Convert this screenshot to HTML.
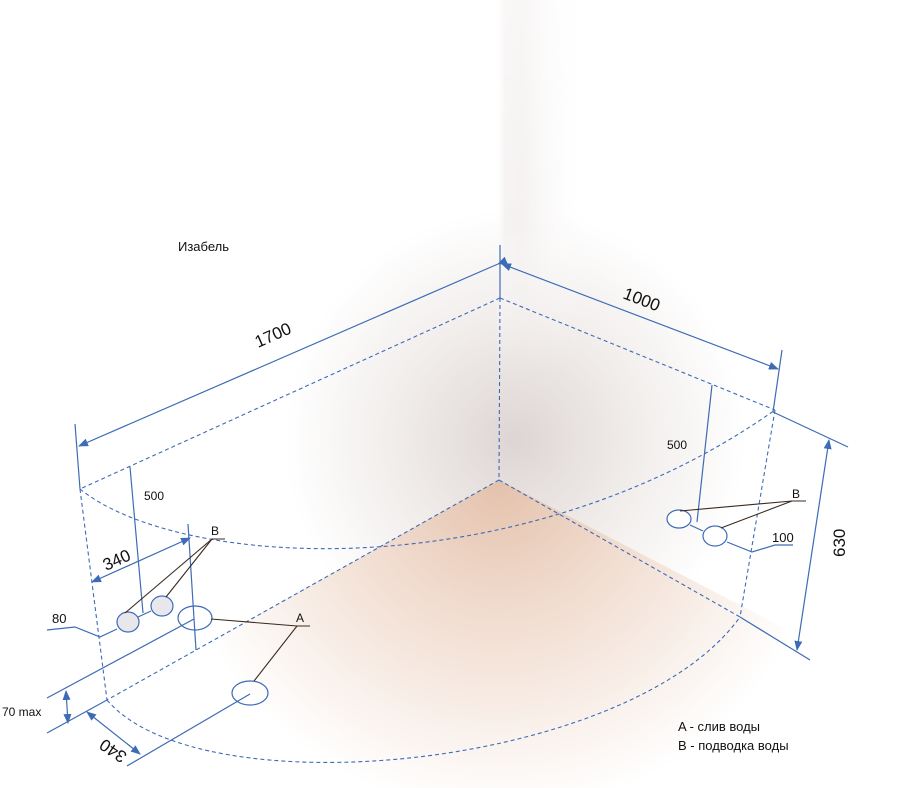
<!DOCTYPE html>
<html><head><meta charset="utf-8"><style>
body{margin:0;background:#fff}
svg{display:block}
text{font-family:"Liberation Sans",sans-serif;fill:#111}
</style></head><body>
<svg width="923" height="788" viewBox="0 0 923 788" xmlns="http://www.w3.org/2000/svg">
<defs>
<radialGradient id="floor" cx="499" cy="482" r="330" gradientUnits="userSpaceOnUse">
<stop offset="0" stop-color="#e4c2ac"/><stop offset="0.4" stop-color="#f1dccf"/><stop offset="1" stop-color="#ffffff"/></radialGradient>
<radialGradient id="wall" cx="515" cy="440" r="230" gradientUnits="userSpaceOnUse">
<stop offset="0" stop-color="#ddd5d3"/><stop offset="0.5" stop-color="#f0ecea"/><stop offset="1" stop-color="#ffffff"/></radialGradient>
<linearGradient id="up" x1="495" y1="0" x2="590" y2="0" gradientUnits="userSpaceOnUse">
<stop offset="0" stop-color="#fff" stop-opacity="0"/><stop offset="0.1" stop-color="#f5f3f2"/><stop offset="0.3" stop-color="#f4f1f0"/><stop offset="1" stop-color="#fff" stop-opacity="0"/></linearGradient>
<linearGradient id="vm" x1="0" y1="0" x2="0" y2="380" gradientUnits="userSpaceOnUse">
<stop offset="0" stop-color="#fff" stop-opacity="0.6"/><stop offset="0.6" stop-color="#fff" stop-opacity="1"/><stop offset="1" stop-color="#fff" stop-opacity="0"/></linearGradient>
<mask id="m"><rect x="480" y="0" width="120" height="380" fill="url(#vm)"/></mask>
<marker id="ar" markerWidth="10" markerHeight="8" refX="9" refY="4" orient="auto" markerUnits="userSpaceOnUse"><path d="M0,0 L10,4 L0,8 Z" fill="#3d6bb5"/></marker>
<marker id="al" markerWidth="10" markerHeight="8" refX="1" refY="4" orient="auto" markerUnits="userSpaceOnUse"><path d="M10,0 L0,4 L10,8 Z" fill="#3d6bb5"/></marker>
</defs>
<rect width="923" height="788" fill="url(#wall)"/>
<rect x="480" y="0" width="120" height="380" fill="url(#up)" mask="url(#m)"/>
<polygon points="499,480 -60,793 923,793 923,700" fill="url(#floor)"/>

<g fill="none" stroke="#3d6bb5" stroke-width="1.1" stroke-dasharray="4,3">
<path d="M500,298 L80,489"/>
<path d="M500,298 L775,410"/>
<path d="M500,298 L499,480"/>
<path d="M80,489 L107,700"/>
<path d="M499,480 L107,700"/>
<path d="M499,480 L740,617"/>
<path d="M775,410 L740,617"/>
<path d="M80,489 C180,570 520,590 775,410"/>
<path d="M107,700 C200,810 630,770 740,617"/>
</g>

<g fill="none" stroke="#3d6bb5" stroke-width="1.2">
<path d="M500,245 L500,298"/>
<path d="M498,264 L79,446" marker-start="url(#ar)" marker-end="url(#ar)"/>
<path d="M502,264 L778,369" marker-start="url(#al)" marker-end="url(#ar)"/>
<path d="M75,424 L80,489"/>
<path d="M782,350 L773,412"/>
<path d="M773,412 L848,447"/>
<path d="M740,617 L810,660"/>
<path d="M829,440 L797,650" marker-start="url(#al)" marker-end="url(#ar)"/>
<path d="M130,467 L143,613"/>
<path d="M92,582 L190,538" marker-start="url(#al)" marker-end="url(#ar)"/>
<path d="M188,524 L196,650"/>
<path d="M47,698 L194,619"/>
<path d="M47,733 L107,700"/>
<path d="M66,691 L68,723" marker-start="url(#al)" marker-end="url(#ar)"/>
<path d="M87,712 L140,754" marker-start="url(#al)" marker-end="url(#ar)"/>
<path d="M127,766 L250,694"/>
<path d="M47,630 L75,627 L100,637 L117,629"/>
<path d="M138,617 L151,611"/>
<path d="M712,385 L697,522"/>
<path d="M690,525 L703,531"/>
<path d="M727,542 L752,552 L775,545 L793,545"/>
<ellipse cx="128" cy="622" rx="11" ry="10" fill="#e8e8ec"/>
<ellipse cx="162" cy="606" rx="11" ry="10" fill="#e8e8ec"/>
<ellipse cx="195" cy="618" rx="17" ry="12"/>
<ellipse cx="250" cy="693" rx="18" ry="12"/>
<ellipse cx="679" cy="519" rx="12" ry="9" fill="#fff"/>
<ellipse cx="715" cy="536" rx="12" ry="10" fill="#fff"/>
</g>

<g fill="none" stroke="#3a2a1e" stroke-width="1.1">
<path d="M125,613 L212,539 L225,539"/>
<path d="M166,597 L212,539"/>
<path d="M211,619 L297,626 L310,626"/>
<path d="M254,681 L297,626"/>
<path d="M680,511 L792,501 L806,501"/>
<path d="M721,528 L792,501"/>
</g>

<text x="178" y="251" font-size="13">Изабель</text>
<text x="0" y="0" font-size="17" transform="translate(258,348) rotate(-24)">1700</text>
<text x="0" y="0" font-size="17" transform="translate(622,298) rotate(21)">1000</text>
<text x="0" y="0" font-size="17" transform="translate(845,557) rotate(-90)">630</text>
<text x="0" y="0" font-size="17" transform="translate(106,571) rotate(-24)">340</text>
<text x="0" y="0" font-size="17" transform="translate(128,754) rotate(214)">340</text>
<text x="144" y="500" font-size="12">500</text>
<text x="667" y="449" font-size="12">500</text>
<text x="52" y="623" font-size="13">80</text>
<text x="772" y="542" font-size="13">100</text>
<text x="2" y="716" font-size="12">70 max</text>
<text x="211" y="535" font-size="12">B</text>
<text x="296" y="622" font-size="12">A</text>
<text x="792" y="498" font-size="12">B</text>
<text x="678" y="731" font-size="13">A - слив воды</text>
<text x="678" y="750" font-size="13">B - подводка воды</text>
</svg>
</body></html>
